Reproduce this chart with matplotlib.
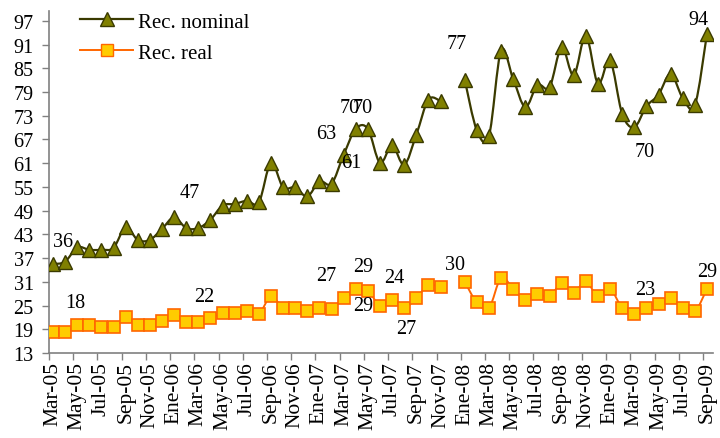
import numpy as np
import matplotlib
matplotlib.use("Agg")
import matplotlib.pyplot as plt
from matplotlib.path import Path
from matplotlib.patches import PathPatch
from matplotlib.lines import Line2D

plt.rcParams['font.family'] = ['Liberation Serif', 'DejaVu Serif']

# months Mar-05 .. Sep-09 (Spanish abbreviations)
meses = ['Ene', 'Feb', 'Mar', 'Abr', 'May', 'Jun', 'Jul', 'Ago', 'Sep', 'Oct', 'Nov', 'Dic']
fechas = [f"{meses[(2 + k) % 12]}-{5 + (2 + k) // 12:02d}" for k in range(55)]

nan = np.nan
rec_nominal = [35.5, 36.1, 39.7, 39.1, 39.1, 39.6, 44.8, 41.6, 41.6, 44.4,
               47.3, 44.6, 44.6, 46.7, 50.3, 50.7, 51.5, 51.1, 61.1, 54.9,
               54.9, 52.6, 56.4, 55.8, 63.1, 69.7, 69.7, 61.1, 65.5, 60.6,
               68.2, 77.1, 76.7, nan, 82.1, 69.3, 67.9, 89.5, 82.3, 75.2,
               80.8, 80.2, 90.3, 83.2, 93.3, 81.1, 87.0, 73.5, 70.1, 75.4,
               78.3, 83.6, 77.5, 75.6, 93.7]
rec_real = [18.2, 18.2, 20.1, 20.1, 19.7, 19.7, 22.0, 20.1, 20.1, 21.2,
            22.6, 20.8, 20.8, 21.8, 23.1, 23.0, 23.5, 22.9, 27.3, 24.4,
            24.4, 23.5, 24.4, 24.1, 26.9, 29.2, 28.8, 25.0, 26.4, 24.4,
            26.9, 30.2, 29.6, nan, 31.0, 25.8, 24.4, 32.0, 29.2, 26.4,
            27.8, 27.3, 30.6, 28.3, 31.1, 27.3, 29.2, 24.4, 22.9, 24.4,
            25.4, 26.8, 24.4, 23.5, 29.2]

# value labels as they sit in the original chart (x in month index, y in data units)
etiquetas = [(0.8, 41.1, '36'), (1.8, 25.7, '18'), (11.3, 53.7, '47'), (12.5, 27.2, '22'),
             (22.6, 68.4, '63'), (24.5, 75.0, '70'), (25.6, 75.0, '70'), (24.6, 61.3, '61'),
             (22.6, 32.5, '27'), (25.6, 34.8, '29'), (25.6, 25.1, '29'), (28.2, 32.0, '24'),
             (29.2, 19.1, '27'), (33.2, 35.3, '30'), (33.3, 91.2, '77'), (48.9, 63.9, '70'),
             (53.3, 97.3, '94'), (48.9, 29.0, '23'), (54.0, 33.7, '29')]


def smooth_path(x, y):
    # Catmull-Rom style bezier through the points, split at gaps
    x = np.asarray(x, float)
    y = np.asarray(y, float)
    verts, codes = [], []
    ok = ~np.isnan(y)
    runs, start = [], None
    for i in range(len(y) + 1):
        if i < len(y) and ok[i]:
            if start is None:
                start = i
        elif start is not None:
            runs.append((start, i))
            start = None
    for a, b in runs:
        p = np.column_stack([x[a:b], y[a:b]])
        verts.append(p[0]); codes.append(Path.MOVETO)
        for i in range(len(p) - 1):
            p0 = p[i - 1] if i > 0 else p[i]
            p3 = p[i + 2] if i + 2 < len(p) else p[i + 1]
            c1 = p[i] + (p[i + 1] - p0) / 6.0
            c2 = p[i + 1] - (p3 - p[i]) / 6.0
            verts += [c1, c2, p[i + 1]]
            codes += [Path.CURVE4] * 3
    return Path(verts, codes)


fig = plt.figure(figsize=(7.2, 4.39), dpi=100)
ax = fig.add_axes([49 / 720, 1 - 354 / 439, 664 / 720, 342 / 439])

xs = np.arange(len(fechas))
col_nom_line, col_nom_fill = '#3a3a00', '#808000'
col_real_line, col_real_fill = '#ff6600', '#ffcc00'

ax.add_patch(PathPatch(smooth_path(xs, rec_nominal), fill=False, edgecolor=col_nom_line, lw=1.6, zorder=2))
ax.plot(xs, rec_nominal, ls='none', marker='^', ms=10, mfc=col_nom_fill, mec=col_nom_line, mew=1.0, zorder=3)
ax.add_patch(PathPatch(smooth_path(xs, rec_real), fill=False, edgecolor=col_real_line, lw=1.4, zorder=2))
ax.plot(xs, rec_real, ls='none', marker='s', ms=8.5, mfc=col_real_fill, mec=col_real_line, mew=1.2, zorder=3)

for ex, ey, t in etiquetas:
    ax.text(ex, ey, t, fontsize=14.5, ha='center', va='center', color='black', zorder=4)

ax.set_xlim(-0.33, 54.5)
ax.set_ylim(13, 99.5)
ax.set_yticks(np.arange(13, 98, 6))
ax.tick_params(axis='y', labelsize=14.5, length=5, width=1, color='#808080', pad=6)

# tick marks between categories, labels under every second month
ax.set_xticks(xs[::2] - 0.33)
ax.set_xticklabels([])
ax.tick_params(axis='x', which='major', length=5, width=1, color='#808080')
ax.set_xticks(xs[::2], minor=True)
ax.set_xticklabels(fechas[::2], minor=True, rotation=90, fontsize=15.5)
ax.tick_params(axis='x', which='minor', length=0, pad=6)

for s in ['top', 'right']:
    ax.spines[s].set_visible(False)
for s in ['left', 'bottom']:
    ax.spines[s].set_color('#808080')
    ax.spines[s].set_linewidth(1.2)

h1 = Line2D([], [], color=col_nom_line, lw=1.6, marker='^', ms=10, mfc=col_nom_fill, mec=col_nom_line)
h2 = Line2D([], [], color=col_real_line, lw=1.4, marker='s', ms=8.5, mfc=col_real_fill, mec=col_real_line)
fig.legend([h1, h2], ['Rec. nominal', 'Rec. real'], loc='upper left',
           bbox_to_anchor=(80 / 720, 1 - 13 / 439), frameon=False, fontsize=15,
           handlelength=2.55, handletextpad=0.25, labelspacing=0.55, borderpad=0, borderaxespad=0)

fig.savefig('out.png', dpi=100)
